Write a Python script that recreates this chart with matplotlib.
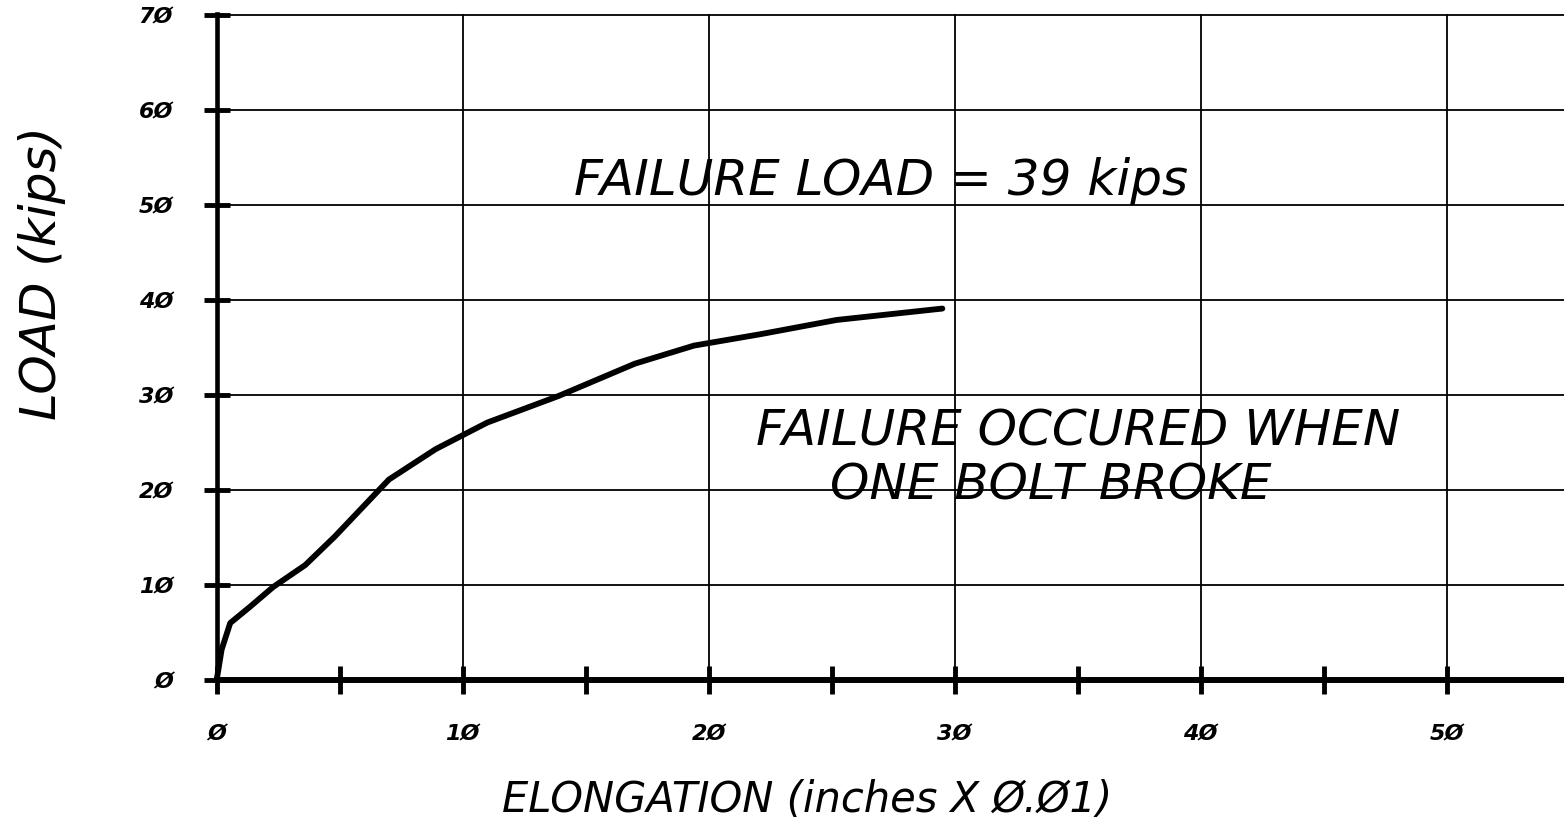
import matplotlib
matplotlib.use('Agg')
import matplotlib.pyplot as plt

# ---- data ----
elongation = [0, 0.2, 0.55, 1.35, 2.3, 3.6, 4.8, 7.0, 8.9, 11.0, 13.9, 17.0, 19.4, 22.1, 25.2, 29.5]
load = [0, 3.2, 6.0, 7.7, 9.8, 12.1, 15.1, 21.1, 24.3, 27.1, 29.9, 33.3, 35.2, 36.4, 37.9, 39.1]

x_ticks = [0, 10, 20, 30, 40, 50]
x_tick_labels = ['Ø', '1Ø', '2Ø', '3Ø', '4Ø', '5Ø']
x_minor_ticks = [5, 15, 25, 35, 45]
y_ticks = [0, 10, 20, 30, 40, 50, 60, 70]
y_tick_labels = ['Ø', '1Ø', '2Ø', '3Ø', '4Ø', '5Ø', '6Ø', '7Ø']

x_label = 'ELONGATION (inches X Ø.Ø1)'
y_label = 'LOAD (kips)'
note_load = 'FAILURE LOAD = 39 kips'
note_fail_1 = 'FAILURE OCCURED WHEN'
note_fail_2 = 'ONE BOLT BROKE'

plt.rcParams['font.family'] = ['DejaVu Sans']

W, H = 1564, 833
fig = plt.figure(figsize=(W / 100, H / 100), dpi=100)
x0_px, y0_px, ytop_px = 216.7, 680.0, 13.6
ax = fig.add_axes([x0_px / W, (H - y0_px) / H, 1 - x0_px / W, (y0_px - ytop_px) / H])

ax.plot(elongation, load, color='black', lw=4.2, solid_capstyle='round',
        solid_joinstyle='round', clip_on=False, zorder=3)

ax.set_xlim(0, 54.77)
ax.set_ylim(0, 70.15)

for s in ['top', 'right']:
    ax.spines[s].set_visible(False)
ax.spines['left'].set_linewidth(3.3)
ax.spines['bottom'].set_linewidth(4.3)

ax.set_xticks(x_ticks)
ax.set_xticklabels(x_tick_labels, fontstyle='oblique', fontweight='bold', fontsize=16)
ax.set_xticks(x_minor_ticks, minor=True)
ax.set_yticks(y_ticks)
ax.set_yticklabels(y_tick_labels, fontstyle='oblique', fontweight='bold', fontsize=16)

ax.tick_params(axis='x', which='both', direction='inout', length=20, width=3.5, pad=22)
ax.tick_params(axis='y', which='major', direction='inout', length=19, width=3.5, pad=22)

ax.grid(True, which='major', color='black', lw=1.3)
ax.set_axisbelow(True)

ax.text(27.0, 51.05, note_load, ha='center', va='baseline', fontsize=36, fontstyle='oblique')
ax.text(35.0, 24.7, note_fail_1, ha='center', va='baseline', fontsize=36, fontstyle='oblique')
ax.text(33.9, 18.95, note_fail_2, ha='center', va='baseline', fontsize=36, fontstyle='oblique')

fig.text(807 / W, 1 - 800 / H, x_label, ha='center', va='center', fontsize=30, fontstyle='oblique')
fig.text(42 / W, 1 - 273 / H, y_label, ha='center', va='center', rotation=90,
         fontsize=36, fontstyle='oblique')

fig.savefig('out.png', dpi=100, facecolor='white')
